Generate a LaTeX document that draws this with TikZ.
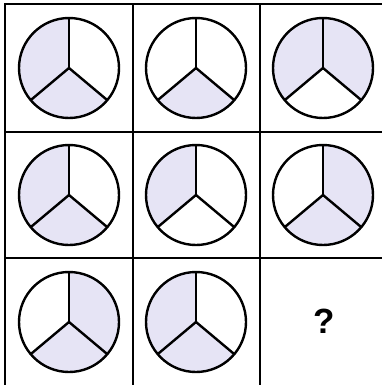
\documentclass[tikz,border=0pt]{standalone}
\usepackage{fontspec}
\setmainfont{Liberation Sans}
\definecolor{lav}{RGB}{230,228,245}
\begin{document}
\begin{tikzpicture}[x=1pt,y=-1pt,
  gridline/.style={line width=2.2pt,black},
  ring/.style={line width=2.4pt,black},
  shade/.style={fill=lav,draw=none}]
\useasboundingbox (0,0) rectangle (382,385);
\fill[white] (0,0) rectangle (382,385);
\begin{scope}
\clip (0,0) rectangle (382,385);
\draw[gridline] (5,390) -- (5,4) -- (390,4);
\draw[gridline] (133,4) -- (133,390);
\draw[gridline] (260,4) -- (260,390);
\draw[gridline] (5,132) -- (390,132);
\draw[gridline] (5,258) -- (390,258);
\end{scope}
% pie macro: #1 name, #2 x, #3 y, #4 left, #5 right, #6 bottom (1 = shaded)
\newcommand{\pie}[6]{%
  \coordinate (#1) at (#2,#3);
  \ifnum#4=1 \fill[lav] (#1) -- ++(0,-50) arc[start angle=-90,end angle=-220,radius=50] -- cycle;\fi
  \ifnum#5=1 \fill[lav] (#1) -- ++(0,-50) arc[start angle=-90,end angle=40,radius=50] -- cycle;\fi
  \ifnum#6=1 \fill[lav] (#1) -- ++(-220:50) arc[start angle=-220,end angle=-320,radius=50] -- cycle;\fi
  \draw[ring] (#1) circle[radius=50];
  \draw[ring] (#1) -- ++(0,-50);
  \draw[ring] (#1) -- ++(-220:50);
  \draw[ring] (#1) -- ++(-320:50);
}
\pie{p11}{69}{68}{1}{0}{1}
\pie{p12}{196}{68}{0}{0}{1}
\pie{p13}{323}{68}{1}{1}{0}
\pie{p21}{69}{195}{1}{0}{1}
\pie{p22}{196}{195}{1}{0}{0}
\pie{p23}{323}{195}{0}{1}{1}
\pie{p31}{69}{322}{0}{1}{1}
\pie{p32}{196}{322}{1}{0}{1}
\node[font=\bfseries\fontsize{35}{35}\selectfont] (q) at (324,321) {?};
\end{tikzpicture}
\end{document}
